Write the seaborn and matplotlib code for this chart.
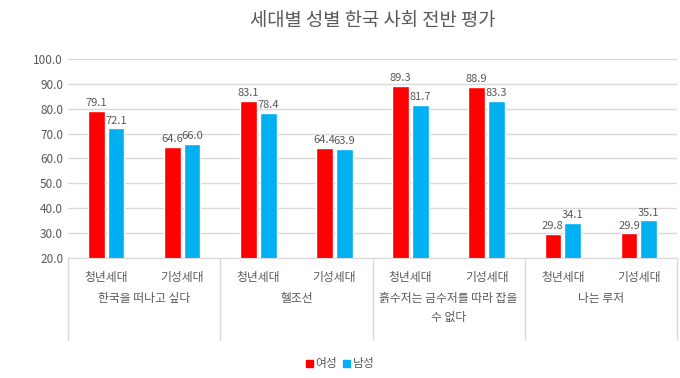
import matplotlib
matplotlib.use("Agg")
import matplotlib.pyplot as plt
import seaborn as sns
import pandas as pd
from matplotlib.patches import Patch

# --------------------------------------------------
# Data
# --------------------------------------------------
groups = ["한국을 떠나고 싶다", "헬조선", "흙수저는 금수저를 따라 잡을\n수 없다", "나는 루저"]
generations = ["청년세대", "기성세대"]
female = [79.1, 64.6, 83.1, 64.4, 89.3, 88.9, 29.8, 29.9]
male = [72.1, 66.0, 78.4, 63.9, 81.7, 83.3, 34.1, 35.1]
genders = ["여성", "남성"]
colors = ["#FF0000", "#00B0F0"]

slots = [f"{g}|{gen}" for g in groups for gen in generations]
df = pd.DataFrame({
    "slot": slots * 2,
    "gender": [genders[0]] * len(slots) + [genders[1]] * len(slots),
    "value": female + male,
})

# --------------------------------------------------
# Plot
# --------------------------------------------------
sns.set_style("white")
plt.rcParams["font.family"] = ["Noto Sans CJK KR", "DejaVu Sans"]
text_col = "#595959"
line_col = "#D9D9D9"

fig = plt.figure(figsize=(6.8, 3.78), dpi=100)
ax = fig.add_axes([68 / 680, 1 - 258 / 378, (677 - 68) / 680, (258 - 59) / 378])

sns.barplot(
    data=df, x="slot", y="value", hue="gender", order=slots,
    hue_order=genders, palette=colors, width=0.52, gap=0.15,
    saturation=1, legend=False, ax=ax,
)

for cont in ax.containers:
    ax.bar_label(cont, fmt="%.1f", padding=2, fontsize=8, color=text_col)

ax.set_ylim(20, 100)
ax.set_xlim(-0.5, len(slots) - 0.5)
ax.set_yticks(range(20, 101, 10))
ax.set_yticklabels([f"{v:.1f}" for v in range(20, 101, 10)], fontsize=8.5, color=text_col)
ax.yaxis.grid(True, color=line_col, linewidth=1)
ax.set_axisbelow(True)
ax.tick_params(axis="both", length=0)
ax.set_xlabel("")
ax.set_ylabel("")
ax.set_xticks(range(len(slots)))
ax.set_xticklabels([generations[i % 2] for i in range(len(slots))],
                   fontsize=8.5, color=text_col)
ax.tick_params(axis="x", pad=9)
for s in ["left", "right", "top"]:
    ax.spines[s].set_visible(False)
ax.spines["bottom"].set_color(line_col)

# group labels and separators
trans = ax.get_xaxis_transform()
for i, g in enumerate(groups):
    ax.text(2 * i + 0.5, -0.17, g, transform=trans, ha="center", va="top",
            fontsize=8.5, color=text_col, linespacing=1.6)
for x in [-0.5, 1.5, 3.5, 5.5, 7.5]:
    ax.plot([x, x], [0, -0.41], transform=trans, color=line_col,
            linewidth=1, clip_on=False)

ax.set_title("세대별 성별 한국 사회 전반 평가", fontsize=13.5, color=text_col, pad=24)

handles = [Patch(color=c, label=l) for c, l in zip(colors, genders)]
fig.legend(handles=handles, loc="center", bbox_to_anchor=(0.5, 1 - 364 / 378),
           ncol=2, frameon=False, fontsize=8.5, handlelength=0.6, handleheight=0.6,
           handletextpad=0.2, columnspacing=0.5, labelcolor=text_col)

plt.savefig("out.png", dpi=100)
plt.close()
